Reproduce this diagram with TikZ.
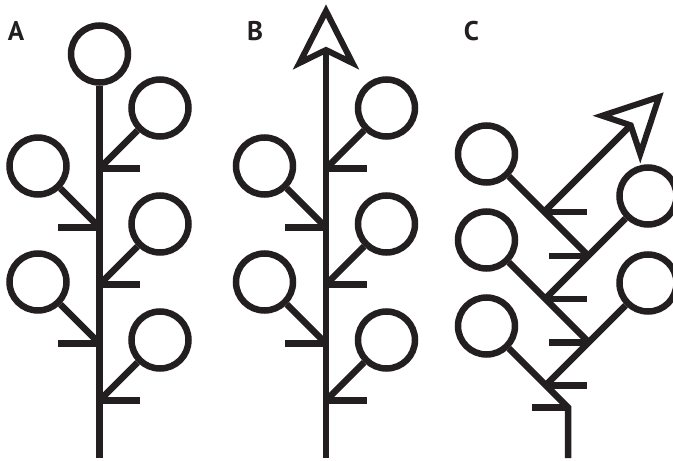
\documentclass[tikz,border=0pt]{standalone}
\usepackage{fontspec}
\setsansfont{PT Sans}
\definecolor{ink}{HTML}{231F20}
\begin{document}
\begin{tikzpicture}[x=1pt,y=-1pt,
  color=ink, line width=6.5pt, line join=miter,
  leaf/.style={circle, draw=ink, line width=6.5pt, minimum size=57pt, inner sep=0pt},
  lbl/.style={font=\sffamily\bfseries\fontsize{27}{27}\selectfont, text=ink, anchor=base, inner sep=0pt},
  ahead/.style={draw=ink, line width=6pt, fill=white, line join=miter}]
\useasboundingbox (0,0) rectangle (673,461);

% ---------- labels ----------
\node[lbl] (la) at (16,40) {A};
\node[lbl] (lb) at (255,40) {B};
\node[lbl] (lc) at (471.5,40) {C};

% ---------- panels A and B ----------
\foreach \p/\dx in {a/0, b/226.5} {
  \begin{scope}[xshift=\dx]
    \coordinate (\p bot) at (99.5,458);
    \foreach \i/\y in {1/108, 2/224, 3/340} {
      \node[leaf] (\p r\i) at (160,\y) {};
      \coordinate (\p rj\i) at (99.5,\y+60.5);
      \coordinate (\p rt\i) at (140,\y+60.5);
      \draw (\p r\i) -- (\p rj\i);
      \draw (\p rj\i) -- (\p rt\i);
    }
    \foreach \i/\y in {1/166, 2/282} {
      \node[leaf] (\p l\i) at (38,\y) {};
      \coordinate (\p lj\i) at (99.5,\y+61.5);
      \coordinate (\p lt\i) at (58,\y+61.5);
      \draw (\p l\i) -- (\p lj\i);
      \draw (\p lj\i) -- (\p lt\i);
    }
  \end{scope}
}
% top of A: circle
\node[leaf] (atop) at (99.5,54) {};
\draw (atop) -- (abot);
% top of B: arrow
\coordinate (bnotch) at (326,50);
\draw (bbot) -- (bnotch);
\begin{scope}[shift={(326,50)}]
  \draw[ahead] (0,0) -- (-26.5,13) -- (0,-39) -- (26.5,13) -- cycle;
\end{scope}

% ---------- panel C ----------
\node[leaf] (cl1) at (486.5,154) {};
\node[leaf] (cl2) at (486.5,240) {};
\node[leaf] (cl3) at (486.5,326) {};
\node[leaf] (cr1) at (648,196) {};
\node[leaf] (cr2) at (648,283) {};
\coordinate (cbot) at (568,458);
\coordinate (cj0) at (568,407.5);
\coordinate (cj1) at (545.75,385.25);
\coordinate (cj2) at (588.75,342.25);
\coordinate (cj3) at (545.25,298.75);
\coordinate (cj4) at (588.25,255.75);
\coordinate (cj5) at (544.25,211.75);
\coordinate (cnotch) at (630.7,125.3);
\coordinate (ct0) at (532,407.5);
\coordinate (ct1) at (587,385.25);
\coordinate (ct2) at (549,342.25);
\coordinate (ct3) at (587,298.75);
\coordinate (ct4) at (549,255.75);
\coordinate (ct5) at (587,211.75);
% main zig-zag lines
\draw (cbot) -- (cj0) -- (cl3);
\draw (cl2) -- (cj2);
\draw (cl1) -- (cj4);
\draw (cj1) -- (cr2);
\draw (cj3) -- (cr1);
\draw (cj5) -- (cnotch);
% ticks
\foreach \k in {0,...,5} { \draw (cj\k) -- (ct\k); }
% arrow head of C
\begin{scope}[shift={(630.7,125.3)}, rotate=-45]
  \draw[ahead] (0,0) -- (-27,13.5) -- (0,-40) -- (27,13.5) -- cycle;
\end{scope}
\end{tikzpicture}
\end{document}
